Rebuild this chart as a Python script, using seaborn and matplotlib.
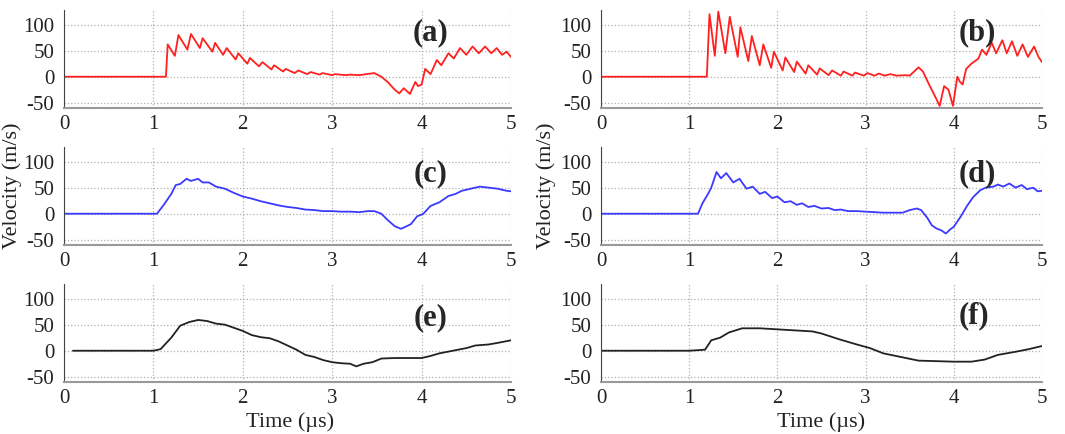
import numpy as np
import pandas as pd
import matplotlib
matplotlib.use('Agg')
import matplotlib.pyplot as plt
import seaborn as sns

sns.set_style('white')
plt.rcParams['font.family'] = ['Liberation Serif', 'DejaVu Serif']
plt.rcParams['axes.unicode_minus'] = False

t_a = [0, 1.14, 1.16, 1.24, 1.28, 1.38, 1.42, 1.52, 1.55, 1.66, 1.69, 1.78, 1.82, 1.92, 1.95,
       2.05, 2.08, 2.18, 2.22, 2.32, 2.35, 2.45, 2.48, 2.58, 2.62, 2.72, 2.76, 2.86, 2.89, 3.0,
       3.03, 3.15, 3.2, 3.3, 3.47, 3.55, 3.62, 3.7, 3.75, 3.8, 3.87, 3.93, 3.96, 4.0, 4.04, 4.1,
       4.17, 4.22, 4.3, 4.36, 4.43, 4.5, 4.57, 4.64, 4.71, 4.78, 4.84, 4.9, 4.95, 5.0]
v_a = [0, 0, 62, 40, 80, 52, 82, 55, 74, 48, 65, 42, 55, 33, 45,
       25, 36, 20, 28, 14, 22, 10, 15, 7, 12, 5, 9, 4, 7, 3,
       5, 3, 4, 3, 7, 0, -10, -25, -32, -22, -33, -10, -18, -15, 15, 5,
       32, 22, 45, 35, 55, 42, 58, 45, 58, 45, 55, 42, 48, 38]

t_b = [0, 1.2, 1.23, 1.29, 1.33, 1.41, 1.46, 1.55, 1.58, 1.67, 1.71, 1.8, 1.84, 1.93, 1.96,
       2.06, 2.09, 2.19, 2.22, 2.32, 2.35, 2.45, 2.48, 2.58, 2.62, 2.72, 2.75, 2.85, 2.88, 2.98,
       3.02, 3.1, 3.15, 3.22, 3.28, 3.35, 3.45, 3.5, 3.6, 3.65, 3.72, 3.78, 3.84, 3.89, 3.94,
       3.99, 4.04, 4.07, 4.1, 4.14, 4.2, 4.28, 4.32, 4.37, 4.43, 4.48, 4.55, 4.6, 4.66, 4.72,
       4.78, 4.84, 4.91, 4.96, 5.0]
v_b = [0, 0, 120, 40, 125, 45, 115, 38, 95, 30, 78, 22, 62, 17, 48,
       12, 37, 9, 29, 6, 22, 4, 16, 3, 12, 2, 10, 2, 8, 2,
       7, 2, 6, 2, 5, 2, 3, 2, 18, 10, -15, -35, -56, -18, -25,
       -56, 0, -10, -15, 15, 25, 35, 52, 42, 65, 45, 70, 45, 68, 40,
       62, 38, 58, 38, 28]

t_c = [0, 1.04, 1.12, 1.2, 1.25, 1.3, 1.37, 1.42, 1.5, 1.55, 1.62, 1.7, 1.8, 1.9, 2.0,
       2.1, 2.2, 2.3, 2.4, 2.5, 2.6, 2.7, 2.8, 2.9, 3.0, 3.1, 3.2, 3.3, 3.4, 3.47,
       3.55, 3.62, 3.7, 3.77, 3.82, 3.88, 3.95, 4.02, 4.1, 4.2, 4.3, 4.38, 4.45, 4.55, 4.65,
       4.75, 4.85, 4.95, 5.0]
v_c = [0, 0, 18, 38, 55, 57, 67, 63, 67, 60, 60, 52, 48, 40, 33,
       29, 24, 20, 16, 13, 11, 8, 7, 5, 5, 4, 4, 3, 5, 5,
       0, -12, -24, -29, -25, -20, -5, 0, 15, 22, 34, 38, 44, 48, 52,
       50, 48, 44, 43]

t_d = [0, 1.1, 1.15, 1.22, 1.25, 1.31, 1.36, 1.42, 1.5, 1.57, 1.65, 1.72, 1.8, 1.86, 1.94,
       2.0, 2.08, 2.15, 2.22, 2.28, 2.35, 2.42, 2.5, 2.58, 2.65, 2.72, 2.8, 2.9, 3.0, 3.1,
       3.2, 3.3, 3.42, 3.5, 3.58, 3.63, 3.7, 3.75, 3.8, 3.86, 3.91, 3.96, 4.0, 4.08, 4.15,
       4.22, 4.3, 4.36, 4.45, 4.5, 4.56, 4.63, 4.7, 4.77, 4.83, 4.9, 4.95, 5.0]
v_d = [0, 0, 20, 40, 50, 80, 68, 78, 60, 67, 48, 52, 38, 42, 30,
       33, 22, 24, 17, 20, 13, 15, 10, 11, 7, 8, 5, 5, 4, 3,
       2, 2, 2, 7, 10, 7, -8, -22, -28, -32, -38, -30, -25, -5, 15,
       32, 45, 50, 52, 56, 52, 58, 50, 55, 47, 50, 43, 44]

t_e = [0.1, 0.5, 1.0, 1.08, 1.2, 1.3, 1.4, 1.5, 1.6, 1.7, 1.8, 1.9, 2.0, 2.1, 2.2,
       2.3, 2.4, 2.5, 2.6, 2.7, 2.8, 2.9, 3.0, 3.1, 3.2, 3.27, 3.35, 3.45, 3.55, 3.7,
       3.85, 4.0, 4.1, 4.2, 4.35, 4.5, 4.6, 4.75, 4.85, 5.0]
v_e = [0, 0, 0, 3, 25, 48, 55, 59, 57, 52, 50, 44, 38, 30, 26,
       24, 18, 10, 2, -8, -12, -18, -22, -24, -25, -30, -25, -22, -15, -14,
       -14, -14, -10, -5, 0, 5, 10, 12, 15, 20]

t_f = [0, 1.0, 1.18, 1.25, 1.35, 1.45, 1.6, 1.8, 2.0, 2.2, 2.4, 2.5, 2.7, 2.9, 3.05,
       3.2, 3.4, 3.6, 3.8, 4.0, 4.2, 4.35, 4.5, 4.7, 4.85, 5.0]
v_f = [0, 0, 2, 20, 25, 35, 43, 43, 41, 39, 37, 33, 22, 12, 5,
       -5, -12, -19, -20, -21, -21, -17, -8, -2, 3, 9]

panels = [('(a)', t_a, v_a, '#ff2020'), ('(b)', t_b, v_b, '#ff2020'),
          ('(c)', t_c, v_c, '#3a3aff'), ('(d)', t_d, v_d, '#3a3aff'),
          ('(e)', t_e, v_e, '#222222'), ('(f)', t_f, v_f, '#222222')]

W, H = 1065, 434
fig = plt.figure(figsize=(W / 100, H / 100), dpi=100)

cols = [(64, 511), (601, 1042)]
rows = [(10, 108), (147, 245), (284, 382)]
label_pos = [(0.82, 0.77), (0.853, 0.77), (0.82, 0.73), (0.853, 0.73), (0.82, 0.66), (0.845, 0.68)]

for i, (lab, t, v, col) in enumerate(panels):
    r, c = divmod(i, 2)
    x0, x1 = cols[c]
    y0, y1 = rows[r]
    ax = fig.add_axes([x0 / W, 1 - y1 / H, (x1 - x0) / W, (y1 - y0) / H])
    df = pd.DataFrame({'t': t, 'v': v})
    sns.lineplot(data=df, x='t', y='v', ax=ax, color=col, lw=1.3, estimator=None, sort=False)
    ax.set_xlim(0, 5)
    ax.set_ylim(-60, 128)
    ax.set_xticks([0, 1, 2, 3, 4, 5])
    ax.set_yticks([-50, 0, 50, 100])
    ax.grid(True, ls=':', color='#b0b0b0', lw=0.9)
    ax.tick_params(direction='in', length=3, labelsize=15, color='#555555', labelcolor='#222222')
    ax.tick_params(axis='x', pad=5)
    ax.tick_params(axis='y', pad=7)
    ax.set_xlabel('')
    ax.set_ylabel('')
    for s in ['top', 'right']:
        ax.spines[s].set_visible(False)
    ax.spines['left'].set_color('#444444')
    ax.spines['bottom'].set_color('#999999')
    ax.spines['bottom'].set_linewidth(1.5)
    ax.text(label_pos[i][0], label_pos[i][1], lab, transform=ax.transAxes, ha='center',
            va='center', fontsize=22, fontweight='bold')

# axis titles placed in figure pixels
fig.text(290 / W, 1 - 422 / H, 'Time (\u00b5s)', ha='center', va='center', fontsize=16, color='#222222')
fig.text(821 / W, 1 - 422 / H, 'Time (\u00b5s)', ha='center', va='center', fontsize=16, color='#222222')
fig.text(12 / W, 1 - 186 / H, 'Velocity (m/s)', rotation=90, ha='center', va='center',
         fontsize=16, color='#222222')
fig.text(546 / W, 1 - 186 / H, 'Velocity (m/s)', rotation=90, ha='center', va='center',
         fontsize=16, color='#222222')

fig.savefig('out.png', dpi=100)
